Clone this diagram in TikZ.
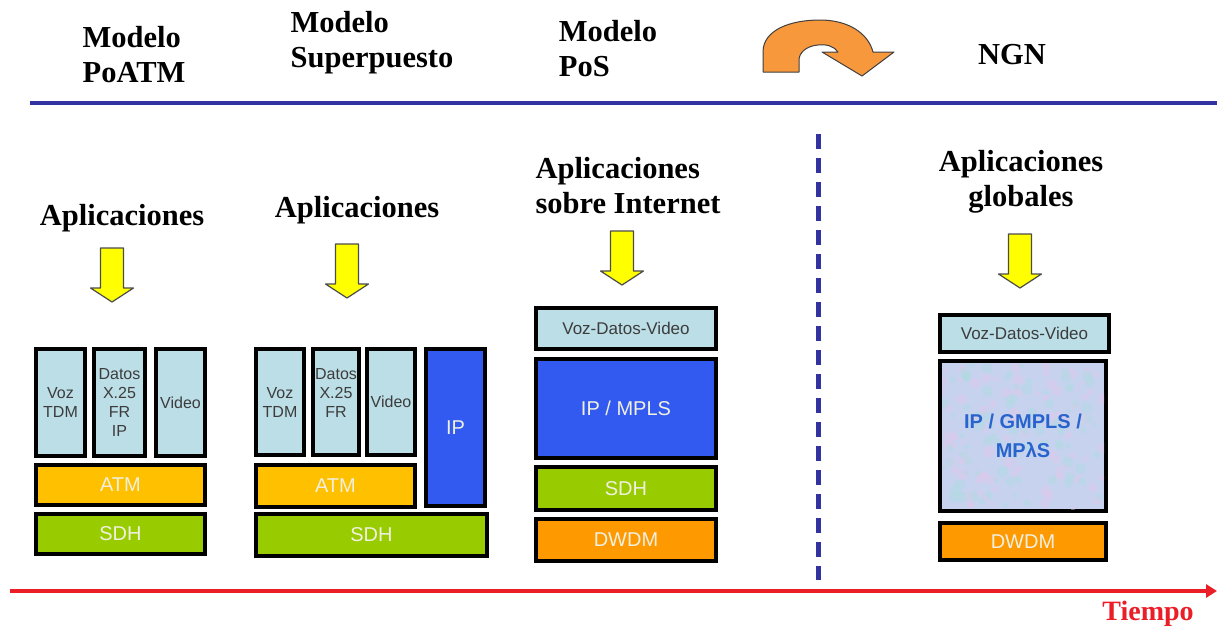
\documentclass[tikz,border=0pt]{standalone}
\usepackage{fontspec}
\setmainfont{Liberation Serif}
\setsansfont{Liberation Sans}
\usetikzlibrary{arrows.meta}

\definecolor{navyline}{RGB}{50,50,160}
\definecolor{redline}{RGB}{235,30,40}
\definecolor{paleblue}{RGB}{188,222,230}
\definecolor{atmgold}{RGB}{255,192,0}
\definecolor{sdhgreen}{RGB}{153,204,0}
\definecolor{ipblue}{RGB}{50,90,240}
\definecolor{dwdmorange}{RGB}{255,153,0}
\definecolor{ngnfill}{RGB}{198,210,238}
\definecolor{speckA}{RGB}{225,200,235}
\definecolor{speckB}{RGB}{175,220,225}
\definecolor{lighttext}{RGB}{240,240,225}
\definecolor{darktext}{RGB}{60,60,60}
\definecolor{gmplstext}{RGB}{40,100,205}
\definecolor{turnorange}{RGB}{247,152,60}
\definecolor{arrowyellow}{RGB}{255,255,0}

\newcommand\layer[7]{\node[#6, minimum width={#4-#2-4}, minimum height={#5-#3-4}] (#1) at ({(#2+#4)/2},{(#3+#5)/2}) {#7};}

\tikzset{
  head/.style={font=\fontsize{30.5}{35}\selectfont\bfseries, text=black, inner sep=0pt},
  lay/.style={draw=black, line width=4pt, inner sep=0pt, align=center,
    font=\sffamily\fontsize{16}{19}\selectfont},
  pale/.style={lay, fill=paleblue, text=darktext},
  wide/.style={lay, fill=paleblue, text=darktext, font=\sffamily\fontsize{17}{20}\selectfont},
  atm/.style={lay, fill=atmgold, text=lighttext, font=\sffamily\fontsize{20}{24}\selectfont},
  sdh/.style={lay, fill=sdhgreen, text=lighttext, font=\sffamily\fontsize{20}{24}\selectfont},
  ip/.style={lay, fill=ipblue, text=lighttext, font=\sffamily\fontsize{20}{24}\selectfont},
  dwdm/.style={lay, fill=dwdmorange, text=lighttext, font=\sffamily\fontsize{20}{24}\selectfont},
  ngn/.style={lay, fill=ngnfill, text=gmplstext, font=\sffamily\bfseries\fontsize{20}{29}\selectfont},
  yarrow/.pic={\draw[fill=arrowyellow, draw=gray!60!black, line width=1.2pt, line join=round]
    (-11.5,0) -- (11.5,0) -- (11.5,40) -- (21.5,40) -- (0,54) -- (-21.5,40) -- (-11.5,40) -- cycle;}
}

\begin{document}
\begin{tikzpicture}[x=1pt,y=-1pt]
\useasboundingbox[fill=white] (0,0) rectangle (1217,629);

% top headings
\node[head, align=left] (m1) at (134,54.5) {Modelo\\PoATM};
\node[head, align=left] (m2) at (372,42.5) {Modelo\\Superpuesto};
\node[head, align=left] (m3) at (608,48.5) {Modelo\\PoS};
\node[head] (ngn) at (1012,55) {NGN};

% orange U-turn arrow
\draw[fill=turnorange, draw=gray!50!black, line width=1pt, line join=round]
  (763,72) -- (763,52) .. controls (763,30) and (790,20) .. (820,20)
  .. controls (848,20) and (868,33) .. (873,52) -- (894,52) -- (862,76) -- (822,52) -- (838,52)
  .. controls (834,46) and (826,44) .. (818,45)
  .. controls (806,46) and (799,53) .. (799,60) -- (799,72) -- cycle;

% separators
\coordinate (hl) at (30,103);
\coordinate (hr) at (1217,103);
\draw[navyline, line width=4pt] (hl) -- (hr);
\coordinate (vt) at (818,134);
\coordinate (vb) at (818,580);
\draw[navyline, line width=5pt, dash pattern=on 15pt off 9pt] (vt) -- (vb);

% time axis
\coordinate (tl) at (10,591);
\coordinate (tr) at (1217,591);
\draw[redline, line width=3.5pt, -{Triangle[length=11pt,width=13pt]}] (tl) -- (tr);
\node[head, text=redline, font=\fontsize{28}{32}\selectfont\bfseries] (tiempo) at (1148,614) {Tiempo};

% application labels
\node[head] (ap1) at (122,218) {Aplicaciones};
\node[head] (ap2) at (357,210) {Aplicaciones};
\node[head, align=left] (ap3) at (628,186) {Aplicaciones\\sobre Internet};
\node[head, align=center] (ap4) at (1021,182) {Aplicaciones\\globales};

% yellow arrows
\pic (ya1) at (112,248) {yarrow};
\pic (ya2) at (347,244) {yarrow};
\pic (ya3) at (622,231) {yarrow};
\pic (ya4) at (1020,234) {yarrow};

% PoATM stack
\layer{v1}{34}{347}{87}{458}{pale}{Voz\\TDM}
\layer{d1}{92}{347}{147}{458}{pale}{Datos\\X.25\\FR\\IP}
\layer{vi1}{154}{347}{207}{458}{pale}{Video}
\layer{atm1}{34}{463}{207}{507}{atm}{ATM}
\layer{sdh1}{34}{512}{207}{556}{sdh}{SDH}

% Superpuesto stack
\layer{v2}{254}{347}{306}{457}{pale}{Voz\\TDM}
\layer{d2}{311}{347}{361}{457}{pale}{Datos\\X.25\\FR\\\mbox{}}
\layer{vi2}{365}{347}{417}{457}{pale}{Video}
\layer{ip2}{424}{347}{487}{508}{ip}{IP}
\layer{atm2}{254}{463}{417}{509}{atm}{ATM}
\layer{sdh2}{254}{512}{489}{558}{sdh}{SDH}

% PoS stack
\layer{vdv3}{534}{306}{718}{351}{wide}{Voz-Datos-Video}
\layer{mpls3}{534}{357}{718}{460}{ip}{IP / MPLS}
\layer{sdh3}{534}{465}{718}{512}{sdh}{SDH}
\layer{dwdm3}{534}{517}{718}{563}{dwdm}{DWDM}

% NGN stack
\layer{vdv4}{938}{313}{1111}{354}{wide}{Voz-Datos-Video}
\layer{gmpls4}{938}{359}{1108}{513}{ngn}{}
\begin{scope}
  \clip (942,363) rectangle (1104,509);
  \pgfmathsetseed{7}
  \foreach \k in {1,...,90}{
    \pgfmathsetmacro\px{942+162*rnd}
    \pgfmathsetmacro\py{363+146*rnd}
    \pgfmathsetmacro\pr{2+4*rnd}
    \fill[speckA, opacity=0.45] (\px,\py) circle[radius=\pr];
  }
  \foreach \k in {1,...,90}{
    \pgfmathsetmacro\px{942+162*rnd}
    \pgfmathsetmacro\py{363+146*rnd}
    \pgfmathsetmacro\pr{2+4*rnd}
    \fill[speckB, opacity=0.45] (\px,\py) circle[radius=\pr];
  }
\end{scope}
\node[font=\sffamily\bfseries\fontsize{20}{29}\selectfont, text=gmplstext, align=center] (gmplslbl) at (gmpls4) {IP / GMPLS /\\MPλS};
\layer{dwdm4}{938}{521}{1108}{562}{dwdm}{DWDM}

\end{tikzpicture}
\end{document}
